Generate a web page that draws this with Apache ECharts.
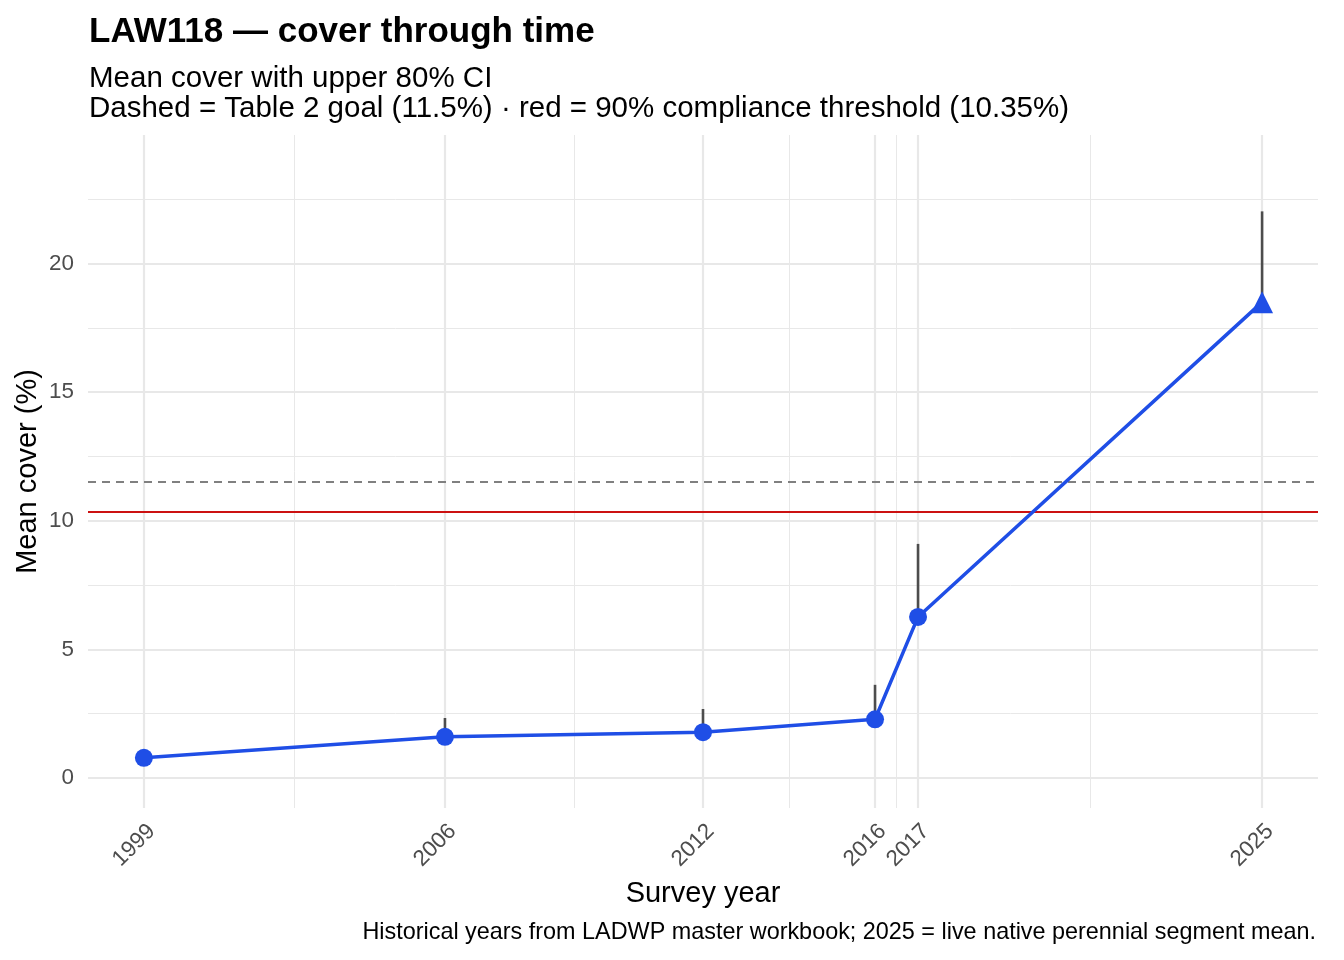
<!DOCTYPE html>
<html>
<head>
<meta charset="utf-8">
<script src="https://cdn.jsdelivr.net/npm/echarts@6/dist/echarts.min.js"></script>
<style>
  html, body { margin: 0; padding: 0; background: #fff; }
  #chart { width: 1344px; height: 960px; }
</style>
</head>
<body>
<div id="chart"></div>
<script>
/* LAW118 cover through time */
var years = [1999, 2006, 2012, 2016, 2017, 2025];
var meanCover = [0.78, 1.6, 1.78, 2.28, 6.26, 18.5];
var upperCI = [0.9, 2.33, 2.68, 3.62, 9.1, 22.03];
var pointShapes = ['circle', 'circle', 'circle', 'circle', 'circle', 'triangle'];
var yTicks = [0, 5, 10, 15, 20];
var yMinorTicks = [2.5, 7.5, 12.5, 17.5, 22.5];
var xMinorTicks = [2002.5, 2009, 2014, 2016.5, 2021];
var goal = 11.5;
var threshold = 10.35;

var font = 'Liberation Sans, Arial, Helvetica, sans-serif';
var blue = '#1f4ee6';

function gridLines(vals, key, width) {
    var out = [];
    for (var i = 0; i < vals.length; i++) {
        var d = {};
        d[key] = vals[i];
        d.lineStyle = { color: '#e8e8e8', width: width, type: 'solid' };
        out.push(d);
    }
    return out;
}

var pointData = [];
var bars = [];
for (var i = 0; i < years.length; i++) {
    pointData.push({
        value: [years[i], meanCover[i]],
        symbol: pointShapes[i],
        symbolSize: pointShapes[i] == 'triangle' ? 22 : 18
    });
    bars.push([years[i], meanCover[i], upperCI[i]]);
}

var dom = document.getElementById('chart');
var myChart = echarts.init(dom, null, { renderer: 'canvas' });

var option = {
    animation: false,
    backgroundColor: '#fff',
    textStyle: { fontFamily: font },
    title: [{
        text: 'LAW118 — cover through time',
        left: 84,
        top: 10,
        textStyle: { fontSize: 35, fontWeight: 'bold', color: '#000', fontFamily: font }
    }, {
        text: 'Mean cover with upper 80% CI\nDashed = Table 2 goal (11.5%) · red = 90% compliance threshold (10.35%)',
        left: 84,
        top: 59,
        textStyle: { fontSize: 29.5, fontWeight: 'normal', color: '#000', lineHeight: 30, fontFamily: font }
    }],
    graphic: [{
        type: 'text',
        right: 28,
        top: 921,
        style: {
            text: 'Historical years from LADWP master workbook; 2025 = live native perennial segment mean.',
            fontSize: 23.4,
            fill: '#000',
            fontFamily: font
        }
    }],
    grid: { left: 88, right: 26, top: 135, bottom: 152 },
    xAxis: {
        type: 'value',
        min: 1997.7,
        max: 2026.3,
        name: 'Survey year',
        nameLocation: 'middle',
        nameGap: 71,
        nameMoveOverlap: false,
        nameTextStyle: { fontSize: 29, color: '#000' },
        axisLine: { show: false },
        axisTick: { show: false },
        splitLine: { show: false },
        axisLabel: {
            customValues: years,
            rotate: 45,
            margin: 12,
            verticalAlign: 'top',
            fontSize: 22.4,
            color: '#4d4d4d',
            formatter: function (v) { return String(v); }
        }
    },
    yAxis: {
        type: 'value',
        min: -1.17,
        max: 25,
        name: 'Mean cover (%)',
        nameLocation: 'middle',
        nameGap: 46,
        nameMoveOverlap: false,
        nameTextStyle: { fontSize: 29, color: '#000' },
        axisLine: { show: false },
        axisTick: { show: false },
        splitLine: { show: false },
        axisLabel: {
            customValues: yTicks,
            margin: 14,
            fontSize: 22.4,
            color: '#4d4d4d'
        }
    },
    series: [{
        // background gridlines
        type: 'line',
        data: [],
        silent: true,
        zlevel: 0,
        markLine: {
            silent: true,
            symbol: 'none',
            label: { show: false },
            animation: false,
            data: gridLines(xMinorTicks, 'xAxis', 1)
                .concat(gridLines(yMinorTicks, 'yAxis', 1))
                .concat(gridLines(years, 'xAxis', 2.2))
                .concat(gridLines(yTicks, 'yAxis', 2.2))
        }
    }, {
        // goal + compliance threshold
        type: 'line',
        data: [],
        silent: true,
        zlevel: 1,
        z: 1,
        markLine: {
            silent: true,
            symbol: 'none',
            label: { show: false },
            animation: false,
            data: [
                { yAxis: goal, lineStyle: { color: '#808080', width: 1.8, type: [8, 6] } },
                { yAxis: threshold, lineStyle: { color: '#cc1111', width: 1.8, type: 'solid' } }
            ]
        }
    }, {
        // upper CI segments
        type: 'custom',
        data: bars,
        silent: true,
        zlevel: 1,
        z: 2,
        renderItem: function (params, api) {
            var p0 = api.coord([api.value(0), api.value(1)]);
            var p1 = api.coord([api.value(0), api.value(2)]);
            return {
                type: 'line',
                shape: { x1: p0[0], y1: p0[1], x2: p1[0], y2: p1[1] },
                style: { stroke: '#4d4d4d', lineWidth: 2.6 }
            };
        }
    }, {
        type: 'line',
        data: pointData,
        zlevel: 1,
        z: 3,
        lineStyle: { color: blue, width: 3.5 },
        itemStyle: { color: blue, borderWidth: 0 },
        showAllSymbol: true
    }]
};

myChart.setOption(option);
</script>
</body>
</html>
